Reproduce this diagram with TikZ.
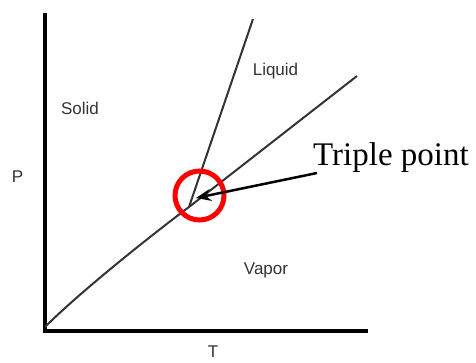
\documentclass[tikz,border=0pt]{standalone}
\usepackage{fontspec}
\setmainfont{Liberation Serif}
\newfontfamily\labelfont{Liberation Sans}
\usetikzlibrary{arrows.meta}
\tikzset{
  axisline/.style={line width=4pt, line join=miter, black},
  phaseline/.style={line width=2pt, black!80},
  phaselabel/.style={font=\labelfont\fontsize{17}{20}\selectfont, text=black!80, inner sep=0pt},
  ring/.style={circle, draw=red, line width=5pt, minimum size=49pt, inner sep=0pt},
  pointer/.style={-{Stealth[length=15pt,width=12pt]}, line width=2.5pt, black},
  calltext/.style={font=\fontsize{33}{38}\selectfont, inner sep=0pt, anchor=base west}
}
\begin{document}
\begin{tikzpicture}[x=1pt,y=-1pt]
\useasboundingbox (0,0) rectangle (476,363);
% axes
\coordinate (ytop) at (44.5,13);
\coordinate (corner) at (44.5,330.5);
\coordinate (xend) at (368,330.5);
\draw[axisline] (ytop) -- (corner) -- (xend);
% phase lines
\coordinate (O) at (45,327);
\coordinate (TP) at (189,207);
\coordinate (Ltop) at (253,19);
\coordinate (Vtop) at (357,76);
\draw[phaseline] (O) .. controls (80,292) and (149,237) .. (TP) -- (Vtop);
\draw[phaseline] (TP) -- (Ltop);
% labels
\node[phaselabel] (solid) at (80,108) {Solid};
\node[phaselabel] (liquid) at (275.5,71) {Liquid};
\node[phaselabel] (vapor) at (266,270) {Vapor};
\node[phaselabel] (plabel) at (17.5,177) {P};
\node[phaselabel, anchor=base] (tlabel) at (213,357) {T};
% triple point marker
\node[ring] (circ) at (199.5,195.5) {};
\node[calltext] (tptext) at (313,166) {Triple point};
\coordinate (astart) at (317,173);
\coordinate (atip) at (196,198);
\draw[pointer] (astart) -- (atip);
\end{tikzpicture}
\end{document}
